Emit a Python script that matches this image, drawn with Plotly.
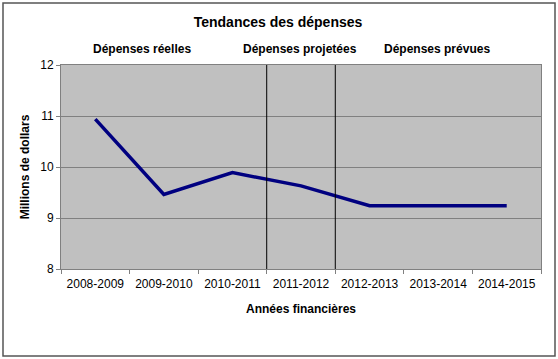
import plotly.graph_objects as go

categories = ["2008-2009", "2009-2010", "2010-2011", "2011-2012", "2012-2013", "2013-2014", "2014-2015"]
values = [10.94, 9.46, 9.89, 9.63, 9.24, 9.24, 9.24]
y_ticks = [8, 9, 10, 11, 12]
section_labels = ["Dépenses réelles", "Dépenses projetées", "Dépenses prévues"]
section_pos = [0.68, 2.98, 4.98]
divider_pos = [2.5, 3.5]

FONT = "Liberation Sans, Arial, sans-serif"

fig = go.Figure()
fig.add_trace(go.Scatter(x=categories, y=values, mode="lines",
                         line=dict(color="#000080", width=3.5), showlegend=False,
                         hoverinfo="skip"))

shapes = []
for d in divider_pos:
    shapes.append(dict(type="line", xref="x", yref="paper", x0=d, x1=d, y0=0, y1=1,
                       line=dict(color="black", width=1)))
# outer chart border
shapes.append(dict(type="rect", xref="paper", yref="paper",
                   x0=(3 - 61) / 480, x1=(555 - 61) / 480,
                   y0=-(356 - 269) / 204, y1=1 + (65 - 3) / 204,
                   line=dict(color="#555555", width=1.5)))

annotations = []
for lab, pos in zip(section_labels, section_pos):
    annotations.append(dict(text="<b>%s</b>" % lab, x=pos, xref="x", y=1 + (66 - 50) / 204,
                            yref="paper", showarrow=False, yanchor="middle",
                            font=dict(family=FONT, size=12, color="black")))

fig.update_layout(
    width=558, height=359,
    margin=dict(l=61, r=17, t=65, b=90),
    paper_bgcolor="white", plot_bgcolor="#C0C0C0",
    title=dict(text="<b>Tendances des dépenses</b>", x=278 / 558, xanchor="center",
               y=1 - 22 / 359, yanchor="middle", font=dict(family=FONT, size=14, color="black")),
    xaxis=dict(type="category", tickson="boundaries", ticks="outside", ticklen=4,
               tickcolor="#808080", showgrid=False, showline=True, linecolor="#808080",
               mirror=True, tickfont=dict(family=FONT, size=12, color="black"),
               ticklabelstandoff=4,
               title=dict(text="<b>Années financières</b>", font=dict(family=FONT, size=12, color="black"),
                          standoff=14),
               range=[-0.5, 6.5]),
    yaxis=dict(range=[8, 12], tickvals=y_ticks, ticks="outside", ticklen=4,
               tickcolor="#808080", showgrid=True, gridcolor="#808080", gridwidth=1,
               showline=True, linecolor="#808080", mirror=True, zeroline=False,
               tickfont=dict(family=FONT, size=12, color="black"),
               title=dict(text="<b>Millions de dollars</b>", font=dict(family=FONT, size=12, color="black"),
                          standoff=8)),
    shapes=shapes, annotations=annotations,
)

fig.write_html("out.html", config={"displayModeBar": False},
               post_script="document.body.style.margin='0px';document.body.style.padding='0px';")
